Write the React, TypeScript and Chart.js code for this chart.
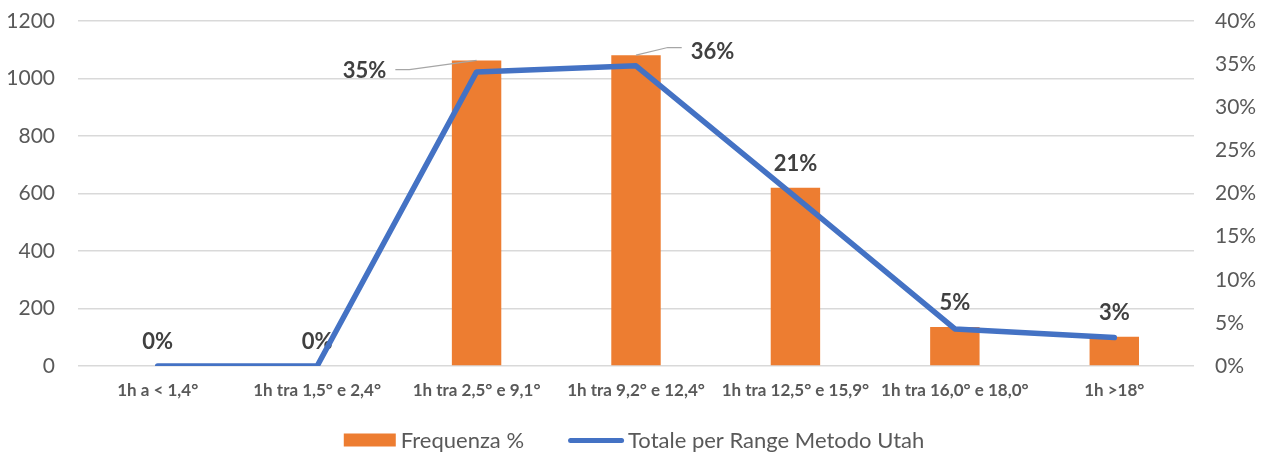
import React, { useEffect, useRef } from "react";
import { Chart, registerables } from "chart.js";

Chart.register(...registerables);

const FONT = "Lato, 'Open Sans', sans-serif";

// ---- data ----
const categories = [
  "1h a < 1,4°",
  "1h tra 1,5° e 2,4°",
  "1h tra 2,5° e 9,1°",
  "1h tra 9,2° e 12,4°",
  "1h tra 12,5° e 15,9°",
  "1h tra 16,0° e 18,0°",
  "1h >18°",
];
const frequenza = [0, 0, 1063, 1081, 620, 136, 102];
const totaleUtah = [0, 0, 34.1, 34.8, 19.6, 4.3, 3.3];
const percentLabels = ["0%", "0%", "35%", "36%", "21%", "5%", "3%"];
const barSeriesName = "Frequenza %";
const lineSeriesName = "Totale per Range Metodo Utah";
const leftAxisMin = 0;
const leftAxisMax = 1200;
const leftAxisStep = 200;
const rightAxisMin = 0;
const rightAxisMax = 40;
const rightAxisStep = 5;

// ---- styles ----
const ORANGE = "#ED7D31";
const BLUE = "#4472C4";
const AXIS_TEXT = "#595959";
const LABEL_TEXT = "#404040";
const GRID = "#D9D9D9";

// label placement tweaks (moved labels with leader lines)
const labelOffsets: ({ dx: number; dy: number; side: "left" | "right"; ly: number } | null)[] = [
  null,
  null,
  { dx: -112, dy: 33.8, side: "right", ly: 0 },
  { dx: 76.5, dy: 20.2, side: "left", ly: -3.4 },
  null,
  null,
  null,
];

const barLabelPlugin = {
  id: "barLabels",
  afterDatasetDraw(chart: any, args: any) {
    if (args.index !== 0) return;
    const ctx = chart.ctx;
    const size = 22;
    ctx.save();
    ctx.font = `bold ${size}px ${FONT}`;
    ctx.fillStyle = LABEL_TEXT;
    ctx.textAlign = "center";
    ctx.textBaseline = "alphabetic";
    args.meta.data.forEach((el: any, i: number) => {
      const off = labelOffsets[i];
      const cx = el.x + (off ? off.dx : 0);
      const cy = el.y - 24.5 + (off ? off.dy : 0);
      const text = percentLabels[i];
      ctx.fillText(text, cx, cy + 0.358 * size);
      if (off) {
        const w = ctx.measureText(text).width;
        const sx = off.side === "right" ? cx + w / 2 + 9 : cx - w / 2 - 9;
        const sy = cy + off.ly;
        const kx = off.side === "right" ? sx + 14 : sx - 14;
        ctx.strokeStyle = "#A6A6A6";
        ctx.lineWidth = 1.25;
        ctx.beginPath();
        ctx.moveTo(sx, sy);
        ctx.lineTo(kx, sy);
        ctx.lineTo(el.x, el.y);
        ctx.stroke();
      }
    });
    ctx.restore();
  },
};

const legendPlugin = {
  id: "customLegend",
  afterDraw(chart: any) {
    const ctx = chart.ctx;
    const size = 22;
    const ds = chart.data.datasets;
    ctx.save();
    ctx.font = `${size}px ${FONT}`;
    const t1 = ds[0].label;
    const t2 = ds[1].label;
    const w1 = ctx.measureText(t1).width;
    const w2 = ctx.measureText(t2).width;
    const boxW = 52;
    const boxH = 13;
    const gap1 = 5;
    const lineW = 56;
    const gap2 = 4;
    const between = 44;
    const total = boxW + gap1 + w1 + between + lineW + gap2 + w2;
    const center = (chart.chartArea.left + chart.chartArea.right) / 2 - 2;
    const cy = chart.height - 12.5;
    let x = center - total / 2;
    ctx.fillStyle = ds[0].backgroundColor;
    ctx.fillRect(x, cy - boxH / 2 - 0.5, boxW, boxH);
    x += boxW + gap1;
    ctx.fillStyle = AXIS_TEXT;
    ctx.textAlign = "left";
    ctx.textBaseline = "alphabetic";
    ctx.fillText(t1, x, cy + 0.358 * size);
    x += w1 + between;
    ctx.strokeStyle = ds[1].borderColor;
    ctx.lineWidth = 5;
    ctx.lineCap = "round";
    ctx.beginPath();
    ctx.moveTo(x + 2.5, cy);
    ctx.lineTo(x + lineW - 2.5, cy);
    ctx.stroke();
    x += lineW + gap2;
    ctx.fillStyle = AXIS_TEXT;
    ctx.fillText(t2, x, cy + 0.358 * size);
    ctx.restore();
  },
};

export default function App() {
  const canvasRef = useRef<HTMLCanvasElement | null>(null);

  useEffect(() => {
    const canvas = canvasRef.current;
    if (!canvas) return;
    const chart = new Chart(canvas, {
      type: "bar",
      data: {
        labels: categories,
        datasets: [
          {
            type: "bar",
            label: barSeriesName,
            data: frequenza,
            backgroundColor: ORANGE,
            borderWidth: 0,
            yAxisID: "y",
            order: 1,
            barPercentage: 1,
            categoryPercentage: 0.31,
          },
          {
            type: "line",
            label: lineSeriesName,
            data: totaleUtah,
            borderColor: BLUE,
            backgroundColor: BLUE,
            borderWidth: 5.5,
            pointRadius: 0,
            pointHoverRadius: 0,
            tension: 0,
            borderJoinStyle: "round",
            borderCapStyle: "round",
            yAxisID: "y1",
            order: 0,
          },
        ],
      },
      options: {
        responsive: false,
        animation: false,
        events: [],
        layout: { padding: { top: 21, left: 0, right: 0, bottom: 0 } },
        plugins: {
          legend: { display: false },
          tooltip: { enabled: false },
          title: { display: false },
        },
        scales: {
          x: {
            offset: true,
            grid: { display: false },
            border: { display: false },
            ticks: {
              autoSkip: false,
              maxRotation: 0,
              minRotation: 0,
              color: AXIS_TEXT,
              padding: 6,
              font: { family: FONT, size: 17, weight: "bold" },
            },
            afterFit: (s: any) => {
              s.height = 87;
              s.paddingLeft = 0;
              s.paddingRight = 0;
            },
          },
          y: {
            position: "left",
            min: leftAxisMin,
            max: leftAxisMax,
            ticks: {
              stepSize: leftAxisStep,
              color: AXIS_TEXT,
              padding: 23,
              font: { family: FONT, size: 21 },
              callback: (v: any) => String(v),
            },
            grid: { color: GRID, lineWidth: 1.5, drawTicks: false },
            border: { display: false },
            afterFit: (s: any) => {
              s.width = 78;
              s.paddingTop = 0;
              s.paddingBottom = 0;
            },
          },
          y1: {
            position: "right",
            min: rightAxisMin,
            max: rightAxisMax,
            ticks: {
              stepSize: rightAxisStep,
              color: AXIS_TEXT,
              padding: 21,
              font: { family: FONT, size: 21 },
              callback: (v: any) => `${v}%`,
            },
            grid: { drawOnChartArea: false, drawTicks: false },
            border: { display: false },
            afterFit: (s: any) => {
              s.width = 68;
              s.paddingTop = 0;
              s.paddingBottom = 0;
            },
          },
        },
      },
      plugins: [barLabelPlugin, legendPlugin],
    });
    return () => chart.destroy();
  }, []);

  return (
    <canvas
      ref={canvasRef}
      width={1262}
      height={453}
      style={{ position: "fixed", left: 0, top: 0, width: 1262, height: 453, display: "block" }}
    />
  );
}
